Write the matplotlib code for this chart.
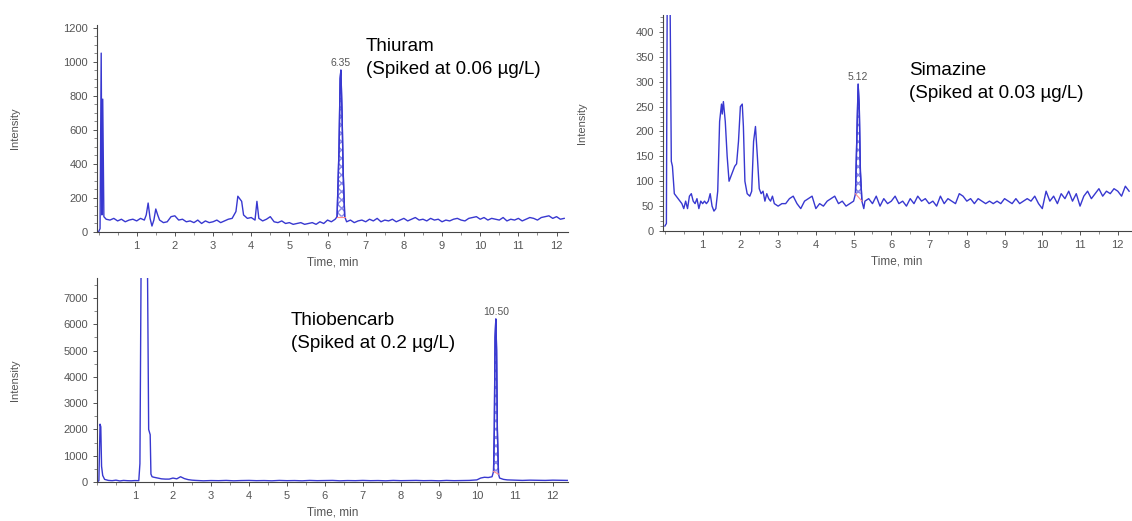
#-------Cromatogramas------#
import matplotlib.pyplot as plt
from matplotlib.ticker import MultipleLocator

plt.rcParams['font.family'] = ['Liberation Sans', 'DejaVu Sans']

# Thiuram
t_thiuram = [0.00, 0.04, 0.07, 0.09, 0.11, 0.14, 0.2, 0.3, 0.4, 0.5, 0.6, 0.7, 0.8, 0.9, 1.0, 1.1, 1.2, 1.25,
             1.3, 1.35, 1.4, 1.45, 1.5, 1.55, 1.6, 1.7, 1.8, 1.9, 2.0, 2.1, 2.2, 2.3, 2.4, 2.5, 2.6, 2.7, 2.8,
             2.9, 3.0, 3.1, 3.2, 3.3, 3.4, 3.5, 3.6, 3.65, 3.7, 3.75, 3.8, 3.9, 4.0, 4.1, 4.15, 4.2, 4.3, 4.4,
             4.5, 4.6, 4.7, 4.8, 4.9, 5.0, 5.1, 5.2, 5.3, 5.4, 5.5, 5.6, 5.7, 5.8, 5.9, 6.0, 6.1, 6.2, 6.25,
             6.3, 6.33, 6.35, 6.38, 6.41, 6.45, 6.5, 6.6, 6.7, 6.8, 6.9, 7.0, 7.1, 7.2, 7.3, 7.4, 7.5, 7.6,
             7.7, 7.8, 7.9, 8.0, 8.1, 8.2, 8.3, 8.4, 8.5, 8.6, 8.7, 8.8, 8.9, 9.0, 9.1, 9.2, 9.3, 9.4, 9.5,
             9.6, 9.7, 9.8, 9.9, 10.0, 10.1, 10.2, 10.3, 10.4, 10.5, 10.6, 10.7, 10.8, 10.9, 11.0, 11.1, 11.2,
             11.3, 11.4, 11.5, 11.6, 11.7, 11.8, 11.9, 12.0, 12.1, 12.2]
i_thiuram = [0, 20, 1050, 100, 780, 90, 75, 70, 80, 65, 75, 60, 70, 75, 65, 80, 70, 100,
             170, 80, 35, 70, 135, 100, 70, 55, 60, 90, 95, 70, 75, 60, 65, 55, 70, 50, 65,
             55, 60, 70, 55, 65, 75, 80, 120, 210, 195, 180, 100, 80, 85, 70, 180, 80, 65, 75,
             90, 60, 55, 65, 50, 55, 45, 50, 55, 45, 50, 55, 45, 60, 50, 70, 60, 75, 90,
             480, 900, 950, 700, 350, 90, 60, 70, 55, 65, 70, 60, 75, 65, 80, 60, 70, 65,
             75, 60, 70, 80, 65, 75, 85, 70, 75, 65, 80, 70, 75, 60, 70, 65, 75, 80, 70,
             65, 80, 85, 90, 75, 85, 70, 80, 75, 70, 85, 65, 75, 70, 80, 65, 75,
             85, 80, 70, 85, 90, 95, 80, 90, 75, 80]

# Simazine
t_simazine = [0.0, 0.04, 0.06, 0.14, 0.17, 0.2, 0.25, 0.3, 0.35, 0.4, 0.45, 0.5, 0.55, 0.6, 0.65, 0.7, 0.75,
              0.8, 0.85, 0.9, 0.95, 1.0, 1.05, 1.1, 1.15, 1.2, 1.25, 1.3, 1.35, 1.4, 1.45, 1.5, 1.52, 1.55,
              1.6, 1.65, 1.7, 1.75, 1.8, 1.85, 1.9, 1.95, 2.0, 2.05, 2.08, 2.12, 2.18, 2.25, 2.3, 2.35, 2.4,
              2.45, 2.5, 2.55, 2.6, 2.65, 2.7, 2.75, 2.8, 2.85, 2.9, 3.0, 3.1, 3.2, 3.3, 3.4, 3.5, 3.6, 3.7,
              3.8, 3.9, 4.0, 4.1, 4.2, 4.3, 4.4, 4.5, 4.6, 4.7, 4.8, 4.9, 5.0, 5.05, 5.08, 5.12, 5.15, 5.18,
              5.22, 5.27, 5.3, 5.4, 5.5, 5.6, 5.7, 5.8, 5.9, 6.0, 6.1, 6.2, 6.3, 6.4, 6.5, 6.6, 6.7, 6.8,
              6.9, 7.0, 7.1, 7.2, 7.3, 7.4, 7.5, 7.6, 7.7, 7.8, 7.9, 8.0, 8.1, 8.2, 8.3, 8.4, 8.5, 8.6, 8.7,
              8.8, 8.9, 9.0, 9.1, 9.2, 9.3, 9.4, 9.5, 9.6, 9.7, 9.8, 9.9, 10.0, 10.1, 10.2, 10.3, 10.4, 10.5,
              10.6, 10.7, 10.8, 10.9, 11.0, 11.1, 11.2, 11.3, 11.4, 11.5, 11.6, 11.7, 11.8, 11.9, 12.0, 12.1,
              12.2, 12.3]
i_simazine = [10, 15, 440, 440, 140, 130, 75, 70, 65, 60, 55, 45, 60, 45, 70, 75, 60,
              55, 65, 45, 60, 55, 60, 55, 60, 75, 50, 40, 45, 80, 220, 255, 235, 260,
              220, 150, 100, 110, 120, 130, 135, 180, 250, 255, 210, 100, 75, 70, 80, 180, 210,
              150, 85, 75, 80, 60, 75, 65, 60, 70, 55, 50, 55, 55, 65, 70, 55, 45, 60,
              65, 70, 45, 55, 50, 60, 65, 70, 55, 60, 50, 55, 60, 75, 170, 295, 250, 120,
              60, 45, 60, 65, 55, 70, 50, 65, 55, 60, 70, 55, 60, 50, 65, 55, 70, 60,
              65, 55, 60, 50, 70, 55, 65, 60, 55, 75, 70, 60, 65, 55, 65, 60, 55, 60, 55,
              60, 55, 65, 60, 55, 65, 55, 60, 65, 60, 70, 55, 45, 80, 60, 70, 55, 75,
              65, 80, 60, 75, 50, 70, 80, 65, 75, 85, 70, 80, 75, 85, 80, 70,
              90, 80]

# Thiobencarb
t_thiobencarb = [0.0, 0.05, 0.08, 0.1, 0.12, 0.15, 0.2, 0.3, 0.4, 0.5, 0.6, 0.7, 0.8, 0.9, 1.0, 1.1, 1.13,
                 1.16, 1.33, 1.36, 1.4, 1.42, 1.45, 1.5, 1.6, 1.7, 1.8, 1.9, 2.0, 2.1, 2.2, 2.3, 2.4, 2.5,
                 2.6, 2.8, 3.0, 3.2, 3.4, 3.6, 3.8, 4.0, 4.2, 4.4, 4.6, 4.8, 5.0, 5.2, 5.4, 5.6, 5.8, 6.0,
                 6.2, 6.4, 6.6, 6.8, 7.0, 7.2, 7.4, 7.6, 7.8, 8.0, 8.2, 8.4, 8.6, 8.8, 9.0, 9.2, 9.4, 9.6,
                 9.8, 10.0, 10.1, 10.2, 10.3, 10.4, 10.44, 10.46, 10.48, 10.5, 10.52, 10.54, 10.57, 10.6,
                 10.7, 10.8, 11.0, 11.2, 11.4, 11.6, 11.8, 12.0, 12.2, 12.4]
i_thiobencarb = [0, 50, 2200, 2100, 600, 250, 100, 60, 50, 70, 40, 60, 50, 45, 55, 50, 700,
                 8000, 8000, 2000, 1800, 300, 200, 180, 150, 120, 110, 110, 150, 120, 200, 130, 90, 70,
                 60, 45, 55, 50, 60, 45, 55, 60, 50, 55, 45, 60, 50, 55, 45, 60, 50, 55,
                 60, 45, 55, 50, 60, 50, 55, 45, 60, 50, 55, 60, 50, 55, 45, 60, 50, 55,
                 60, 80, 150, 180, 170, 200, 400, 2000, 5500, 6200, 5000, 2000, 300, 150,
                 100, 80, 70, 60, 70, 65, 60, 70, 65, 60]

# integrated peaks (start, end, label, rt, height)
peak_thiuram = (6.25, 6.45, "6.35", 6.35, 950)
peak_simazine = (5.05, 5.22, "5.12", 5.12, 295)
peak_thiobencarb = (10.44, 10.57, "10.50", 10.50, 6200)

linea = '#3838d0'
gris = '#555555'


def panel(ax, t, y, xlim, ylim, ymaj, ymin, peak):
    ax.plot(t, y, color=linea, linewidth=1.0)
    a, b, lab, rt, h = peak
    tt = [v for v in t if a <= v <= b]
    yy = [y[k] for k in range(len(t)) if a <= t[k] <= b]
    ax.fill_between(tt, yy, yy[0], facecolor='white', edgecolor='#8a8ae8', hatch='xxxx', linewidth=0)
    ax.plot(tt, yy, color=linea, linewidth=1.0)
    ax.plot([a, b], [yy[0], yy[-1]], color='#ff8c8c', linewidth=0.8)
    ax.text(rt, h + ylim[1] * 0.01, lab, ha='center', va='bottom', fontsize=7.5, color=gris)
    ax.set_xlim(xlim)
    ax.set_ylim(ylim)
    ax.set_xticks(range(1, 13))
    ax.xaxis.set_minor_locator(MultipleLocator(0.5))
    ax.yaxis.set_major_locator(MultipleLocator(ymaj))
    ax.yaxis.set_minor_locator(MultipleLocator(ymin))
    ax.spines['top'].set_visible(False)
    ax.spines['right'].set_visible(False)
    ax.spines['left'].set_color('#444444')
    ax.spines['bottom'].set_color('#444444')
    ax.tick_params(labelsize=8, colors=gris, length=3, width=0.7)
    ax.tick_params(which='minor', length=2, width=0.6, colors='#777777')
    ax.set_xlabel("Time, min", fontsize=8.5, color=gris, labelpad=4)
    ax.set_ylabel("Intensity", fontsize=8, color=gris)
    ax.yaxis.set_label_coords(-0.163, 0.5)


fig = plt.figure(figsize=(11.32, 5.21), dpi=100)
W, H = 1132.0, 521.0

ax1 = fig.add_axes([97 / W, 1 - 232 / H, 471 / W, 207 / H])
panel(ax1, t_thiuram, i_thiuram, (-0.04, 12.3), (0, 1215), 200, 50, peak_thiuram)

ax2 = fig.add_axes([663 / W, 1 - 231 / H, 468 / W, 216 / H])
panel(ax2, t_simazine, i_simazine, (-0.05, 12.35), (0, 434), 50, 10, peak_simazine)

ax3 = fig.add_axes([97 / W, 1 - 482 / H, 471 / W, 204 / H])
panel(ax3, t_thiobencarb, i_thiobencarb, (0, 12.4), (0, 7760), 1000, 500, peak_thiobencarb)

fig.text(366 / W, 1 - 38 / H, "Thiuram\n(Spiked at 0.06 µg/L)", fontsize=13.5, va='top', linespacing=1.45)
fig.text(909 / W, 1 - 62 / H, "Simazine\n(Spiked at 0.03 µg/L)", fontsize=13.5, va='top', linespacing=1.45)
fig.text(291 / W, 1 - 312 / H, "Thiobencarb\n(Spiked at 0.2 µg/L)", fontsize=13.5, va='top', linespacing=1.45)

plt.savefig("out.png", dpi=100)
plt.close()
